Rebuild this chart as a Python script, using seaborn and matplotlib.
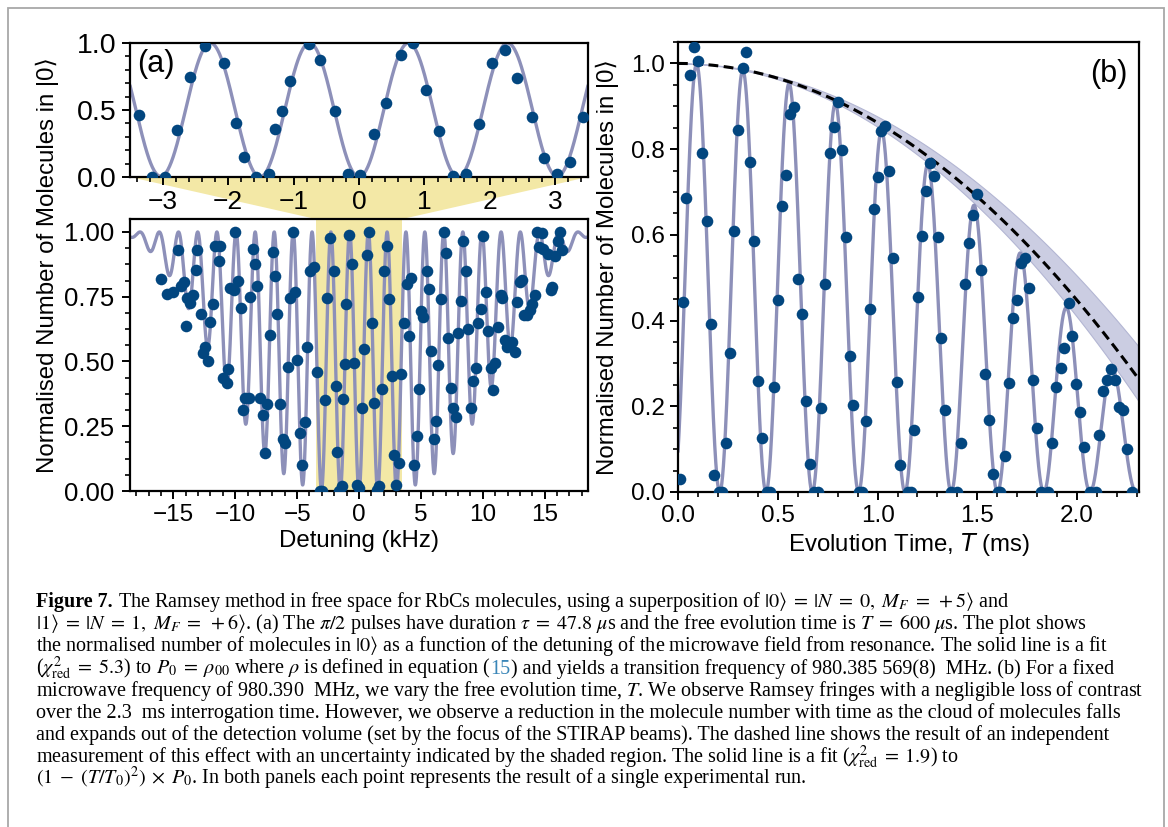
import numpy as np
import matplotlib.pyplot as plt
import seaborn as sns
from matplotlib.patches import Polygon, Rectangle
from matplotlib.ticker import MultipleLocator, FormatStrFormatter


# panel (a): normalised number in |0> against detuning (kHz)
detuning = [
    -15.97, -15.5, -15.0, -14.6, -14.4, -14.1, -14.0, -13.9, -13.65, -13.4,
    -13.2, -13.05, -12.8, -12.6, -12.45, -12.2, -12.0, -11.76, -11.6, -11.35,
    -11.2, -10.95, -10.7, -10.6, -10.4, -10.1, -10.0, -9.8, -9.54, -9.4,
    -9.2, -8.9, -8.78, -8.57, -8.38, -8.24, -7.97, -7.76, -7.62, -7.43,
    -7.16, -6.97, -6.8, -6.62, -6.35, -6.16, -6.0, -5.76, -5.54, -5.35,
    -5.2, -5.0, -4.78, -4.6, -4.38, -4.19, -3.97, -3.65,
    -3.37, -3.17, -2.97, -2.78, -2.58, -2.36, -2.06, -1.88, -1.76, -1.58,
    -1.37, -1.28, -1.17, -1.06, -0.77, -0.60, -0.37, -0.17, 0.02, 0.23,
    0.42, 0.645, 0.83, 1.03, 1.23, 1.43, 1.63, 1.83, 2.03, 2.23,
    2.42, 2.64, 2.83, 3.02, 3.23, 3.42,
    3.64, 3.85, 4.04, 4.18, 4.45, 4.66, 4.85, 5.04, 5.2, 5.47,
    5.66, 5.85, 6.06, 6.25, 6.41, 6.6, 6.87, 7.06, 7.22, 7.41,
    7.6, 7.84, 8.03, 8.22, 8.44, 8.63, 8.81, 9.03, 9.22, 9.43,
    9.65, 9.84, 10.05, 10.24, 10.43, 10.65, 10.84, 11.0, 11.24, 11.46,
    11.59, 11.78, 11.99, 12.18, 12.4, 12.59, 12.8, 13.02, 13.2, 13.34,
    13.6, 13.8, 14.0, 14.2, 14.42, 14.56, 14.77, 14.9, 15.23, 15.5,
    15.63, 15.82, 16.04, 16.2, 16.4,
]
molecules_a = [
    0.817, 0.762, 0.767, 0.93, 0.793, 0.808, 0.637, 0.746, 0.725, 0.757,
    0.853, 0.93, 0.682, 0.534, 0.557, 0.502, 0.654, 0.72, 0.947, 0.888,
    0.947, 0.435, 0.416, 0.471, 0.785, 0.776, 0.999, 0.81, 0.708, 0.313,
    0.36, 0.36, 0.75, 0.934, 0.876, 0.792, 0.358, 0.293, 0.145, 0.335,
    0.602, 0.921, 0.83, 0.682, 0.335, 0.2, 0.187, 0.477, 0.746, 0.999,
    0.77, 0.506, 0.225, 0.1, 0.265, 0.555, 0.85, 0.866,
    0.46, 0.0, 0.0, 0.35, 0.745, 0.975, 0.85, 0.405, 0.15, 0.0,
    0.02, 0.355, 0.49, 0.72, 0.99, 0.875, 0.495, 0.025, 0.013, 0.32,
    0.55, 0.91, 1.0, 0.65, 0.34, 0.005, 0.02, 0.395, 0.85, 0.945,
    0.74, 0.445, 0.14, 0.025, 0.11, 0.45,
    0.647, 0.8, 0.6, 0.821, 0.1, 0.214, 0.394, 0.695, 0.673, 0.849,
    0.78, 0.54, 0.2, 0.27, 0.486, 0.74, 1.0, 0.917, 0.592, 0.399,
    0.319, 0.287, 0.609, 0.734, 0.965, 0.849, 0.625, 0.322, 0.425, 0.474,
    0.647, 0.703, 0.985, 0.767, 0.618, 0.476, 0.39, 0.493, 0.634, 0.757,
    0.744, 0.583, 0.557, 0.57, 0.577, 0.538, 0.731, 0.808, 0.815, 0.68,
    0.68, 0.7, 0.72, 0.757, 1.0, 0.94, 0.995, 0.934, 0.914, 0.776,
    0.789, 0.909, 0.965, 1.0, 0.93,
]

# panel (b): normalised number in |0> against free evolution time (ms)
evolution_time = [
    0.008, 0.025, 0.042, 0.062, 0.081, 0.101, 0.121, 0.143, 0.163, 0.182,
    0.205, 0.222, 0.24, 0.26, 0.282, 0.303, 0.324, 0.341, 0.361, 0.383,
    0.4, 0.42, 0.445, 0.46, 0.482, 0.499, 0.521, 0.541, 0.56, 0.58,
    0.6, 0.622, 0.639, 0.66, 0.681, 0.701, 0.719, 0.739, 0.761, 0.782,
    0.802, 0.824, 0.844, 0.861, 0.879, 0.908, 0.921, 0.941, 0.961, 0.98,
    1.0, 1.017, 1.039, 1.059, 1.079, 1.097, 1.114,
    1.15, 1.17, 1.182, 1.203, 1.223, 1.242, 1.265, 1.283, 1.303, 1.32,
    1.34, 1.37, 1.4, 1.417, 1.44, 1.458, 1.478, 1.5, 1.52, 1.54,
    1.558, 1.578, 1.603, 1.615, 1.637, 1.657, 1.678, 1.698, 1.717, 1.737,
    1.757, 1.778, 1.798, 1.82, 1.853, 1.875, 1.895, 1.917, 1.933, 1.957,
    1.975, 1.995, 2.015, 2.033, 2.062, 2.095, 2.112, 2.132, 2.15, 2.17,
    2.192, 2.208, 2.232, 2.25, 2.273,
]
molecules_b = [
    0.031, 0.444, 0.686, 0.973, 1.039, 1.005, 0.79, 0.633, 0.393, 0.04,
    0.0, 0.0, 0.114, 0.325, 0.609, 0.844, 0.99, 1.027, 0.77, 0.585,
    0.258, 0.125, 0.0, 0.0, 0.245, 0.447, 0.667, 0.739, 0.883, 0.899,
    0.496, 0.416, 0.212, 0.066, 0.0, 0.0, 0.195, 0.486, 0.791, 0.851,
    0.911, 0.798, 0.595, 0.317, 0.204, 0.0, 0.0, 0.166, 0.426, 0.661,
    0.735, 0.842, 0.854, 0.749, 0.546, 0.257, 0.062,
    0.0, 0.0, 0.144, 0.455, 0.597, 0.703, 0.767, 0.737, 0.595, 0.36,
    0.192, 0.0, 0.0, 0.114, 0.486, 0.58, 0.647, 0.695, 0.519, 0.275,
    0.169, 0.041, 0.0, 0.0, 0.083, 0.255, 0.407, 0.449, 0.535, 0.545,
    0.475, 0.261, 0.15, 0.0, 0.0, 0.115, 0.244, 0.29, 0.335, 0.44,
    0.363, 0.251, 0.187, 0.104, 0.0, 0.0, 0.132, 0.235, 0.261, 0.288,
    0.262, 0.198, 0.192, 0.101, 0.0,
]

# fit parameters (caption values and what the curves show)
tau_pulse = 47.8e-6     # s, pi/2 pulse
t_free = 600e-6         # s, free evolution in (a)
fringe_period = 0.232   # ms
first_peak = 0.093      # ms
t0_fit = 2.58           # ms, solid line in (b)
t0_meas = 2.69          # ms, dashed line in (b)
t0_lo, t0_hi = 2.60, 2.84

W, H = 1168, 827
DOT = '#02467f'
LINE = '#8d90b9'
YELLOW = '#f3e8a6'
BAND = '#cbcde2'
CAP_FONT = ['Liberation Serif', 'DejaVu Serif']
CAP_SIZE = 14.5


def ramsey_p0(det_khz):
    d = 2 * np.pi * np.asarray(det_khz) * 1e3
    om = np.pi / (2 * tau_pulse)
    omp = np.sqrt(om ** 2 + d ** 2)
    a = omp * tau_pulse / 2
    b = d * t_free / 2
    br = np.cos(a) * np.cos(b) - d / omp * np.sin(a) * np.sin(b)
    return 1 - 4 * (om / omp) ** 2 * np.sin(a) ** 2 * br ** 2


sns.set_style('ticks')
plt.rcParams['font.family'] = ['Liberation Sans', 'DejaVu Sans']
plt.rcParams.update({
    'font.size': 17,
    'axes.edgecolor': 'black',
    'axes.labelcolor': 'black',
    'text.color': 'black',
    'xtick.color': 'black',
    'ytick.color': 'black',
    'axes.linewidth': 1.6,
    'xtick.major.size': 6, 'ytick.major.size': 6,
    'xtick.minor.size': 3.5, 'ytick.minor.size': 3.5,
    'xtick.major.width': 1.4, 'ytick.major.width': 1.4,
    'xtick.minor.width': 1.2, 'ytick.minor.width': 1.2,
})

fig = plt.figure(figsize=(W / 100, H / 100), dpi=100)


def px_axes(l, t, r, b):
    return fig.add_axes([l / W, 1 - b / H, (r - l) / W, (b - t) / H])


ax_top = px_axes(130, 43, 588, 177)
ax_bot = px_axes(130, 219, 588, 491)
ax_b = px_axes(678, 42, 1139, 492)

# (a) zoomed-in centre
x_top = np.linspace(-3.5, 3.5, 800)
sns.lineplot(x=x_top, y=ramsey_p0(x_top), ax=ax_top, color=LINE, lw=2.4,
             estimator=None, sort=False, zorder=2)
sns.scatterplot(x=detuning, y=molecules_a, ax=ax_top, color=DOT, s=70,
                linewidth=0, zorder=3)
ax_top.set_xlim(-3.5, 3.5)
ax_top.set_ylim(0, 1)
ax_top.xaxis.set_major_locator(MultipleLocator(1))
ax_top.xaxis.set_minor_locator(MultipleLocator(0.2))
ax_top.yaxis.set_major_locator(MultipleLocator(0.5))
ax_top.yaxis.set_minor_locator(MultipleLocator(0.1))
ax_top.yaxis.set_major_formatter(FormatStrFormatter('%.1f'))
ax_top.tick_params(axis='x', labelsize=19)
ax_top.tick_params(axis='y', labelsize=20.5)
ax_top.text(0.015, 0.955, '(a)', transform=ax_top.transAxes, ha='left', va='top', fontsize=22)

# (a) full scan
x_bot = np.linspace(-18.5, 18.5, 4000)
ax_bot.axvspan(-3.5, 3.5, color=YELLOW, lw=0, zorder=0)
sns.lineplot(x=x_bot, y=ramsey_p0(x_bot), ax=ax_bot, color=LINE, lw=2.4,
             estimator=None, sort=False, zorder=2)
sns.scatterplot(x=detuning, y=molecules_a, ax=ax_bot, color=DOT, s=70,
                linewidth=0, zorder=3)
ax_bot.set_xlim(-18.5, 18.5)
ax_bot.set_ylim(0, 1.05)
ax_bot.xaxis.set_major_locator(MultipleLocator(5))
ax_bot.xaxis.set_minor_locator(MultipleLocator(1))
ax_bot.yaxis.set_major_locator(MultipleLocator(0.25))
ax_bot.yaxis.set_minor_locator(MultipleLocator(0.0625))
ax_bot.yaxis.set_major_formatter(FormatStrFormatter('%.2f'))
ax_bot.tick_params(axis='x', labelsize=17.5)
ax_bot.tick_params(axis='y', labelsize=18.5, pad=5.5)
ax_bot.set_xlabel('Detuning (kHz)', fontsize=17.3, labelpad=3)

# (b) fringes against evolution time
tt = np.linspace(0, 2.31, 3000)
fringe = 0.5 * (1 + np.cos(2 * np.pi * (tt - first_peak) / fringe_period))
ax_b.fill_between(tt, 1 - (tt / t0_lo) ** 2, 1 - (tt / t0_hi) ** 2,
                  facecolor=BAND, edgecolor='#b3b6d3', lw=0.8, zorder=1)
sns.lineplot(x=tt, y=(1 - (tt / t0_fit) ** 2) * fringe, ax=ax_b, color=LINE, lw=2.4,
             estimator=None, sort=False, zorder=2)
sns.lineplot(x=tt, y=1 - (tt / t0_meas) ** 2, ax=ax_b, color='black', lw=2.2,
             estimator=None, sort=False, zorder=2.5)
ax_b.lines[-1].set_dashes([3.2, 1.8])
sns.scatterplot(x=evolution_time, y=molecules_b, ax=ax_b, color=DOT, s=70,
                linewidth=0, zorder=3)
ax_b.set_xlim(0, 2.31)
ax_b.set_ylim(0, 1.05)
ax_b.xaxis.set_major_locator(MultipleLocator(0.5))
ax_b.xaxis.set_minor_locator(MultipleLocator(0.1))
ax_b.yaxis.set_major_locator(MultipleLocator(0.2))
ax_b.yaxis.set_minor_locator(MultipleLocator(0.05))
ax_b.xaxis.set_major_formatter(FormatStrFormatter('%.1f'))
ax_b.yaxis.set_major_formatter(FormatStrFormatter('%.1f'))
ax_b.tick_params(axis='both', labelsize=17.5)
ax_b.set_xlabel('Evolution Time, $T$ (ms)', fontsize=17.3, labelpad=3,
                math_fontfamily='dejavusans')
ax_b.text(0.976, 0.962, '(b)', transform=ax_b.transAxes, ha='right', va='top', fontsize=22)

for ax in (ax_top, ax_bot, ax_b):
    ax.tick_params(which='both', direction='out', top=False, right=False)

ylab = 'Normalised Number of Molecules in |0⟩'
fig.text(47 / W, 1 - 265 / H, ylab, rotation=90, ha='center', va='center', fontsize=17.3)
fig.text(607 / W, 1 - 267 / H, ylab, rotation=90, ha='center', va='center', fontsize=17.3)

# yellow wedge linking the zoomed panel to the full scan
to_fig = fig.transFigure.inverted()
wedge = [
    to_fig.transform(ax_top.transAxes.transform((0, 0))),
    to_fig.transform(ax_top.transAxes.transform((1, 0))),
    to_fig.transform(ax_bot.transData.transform((3.5, 1.05))),
    to_fig.transform(ax_bot.transData.transform((-3.5, 1.05))),
]
fig.add_artist(Polygon(wedge, closed=True, transform=fig.transFigure,
                       facecolor=YELLOW, edgecolor='none', zorder=-1))

# light frame round the whole figure
fig.add_artist(Rectangle((8 / W, -0.05), (1164 - 8) / W, 1.05 - 8 / H,
                         transform=fig.transFigure, facecolor='none',
                         edgecolor='#a8a8a8', lw=1.3, clip_on=False))

# caption
caption = [
    [('Figure 7.', 'black', 'bold', 5),
     (r'The Ramsey method in free space for RbCs molecules, using a superposition of '
      r'$|0\rangle\; =\; |N\; =\; 0,\ M_F\; =\; +5\rangle$ and', 'black', 'normal', 0)],
    [(r'$|1\rangle\; =\; |N\; =\; 1,\ M_F\; =\; +6\rangle$. (a) The $\pi/2$ pulses have duration '
      r'$\tau\; =\; 47.8\ \mu$s and the free evolution time is $T\; =\; 600\ \mu$s. The plot shows',
      'black', 'normal', 0)],
    [(r'the normalised number of molecules in $|0\rangle$ as a function of the detuning of the '
      r'microwave field from resonance. The solid line is a fit', 'black', 'normal', 0)],
    [(r'($\chi^2_{\mathrm{red}}\; =\; 5.3$) to $P_0\; =\; \rho_{00}$ where $\rho$ is defined in equation (',
      'black', 'normal', 0),
     ('15', '#3a86b8', 'normal', 0),
     (r') and yields a transition frequency of 980.385 569(8)  MHz. (b) For a fixed', 'black', 'normal', 0)],
    [(r'microwave frequency of 980.390  MHz, we vary the free evolution time, $T$. We observe Ramsey '
      r'fringes with a negligible loss of contrast', 'black', 'normal', 0)],
    [('over the 2.3  ms interrogation time. However, we observe a reduction in the molecule number '
      'with time as the cloud of molecules falls', 'black', 'normal', 0)],
    [('and expands out of the detection volume (set by the focus of the STIRAP beams). The dashed '
      'line shows the result of an independent', 'black', 'normal', 0)],
    [(r'measurement of this effect with an uncertainty indicated by the shaded region. The solid line '
      r'is a fit ($\chi^2_{\mathrm{red}}\; =\; 1.9$) to', 'black', 'normal', 0)],
    [(r'$(1\; -\; (T/T_0)^2)\; \times\; P_0$. In both panels each point represents the result of a '
      r'single experimental run.', 'black', 'normal', 0)],
]

renderer = fig.canvas.get_renderer()
for i, parts in enumerate(caption):
    x = 36.0
    y = 607 + 22.2 * i
    for text, color, weight, gap in parts:
        t = fig.text(x / W, 1 - y / H, text, color=color, fontweight=weight,
                     fontsize=CAP_SIZE, family=CAP_FONT, math_fontfamily='stix',
                     ha='left', va='baseline')
        x += t.get_window_extent(renderer).width + gap

fig.savefig('out.png', dpi=100)
